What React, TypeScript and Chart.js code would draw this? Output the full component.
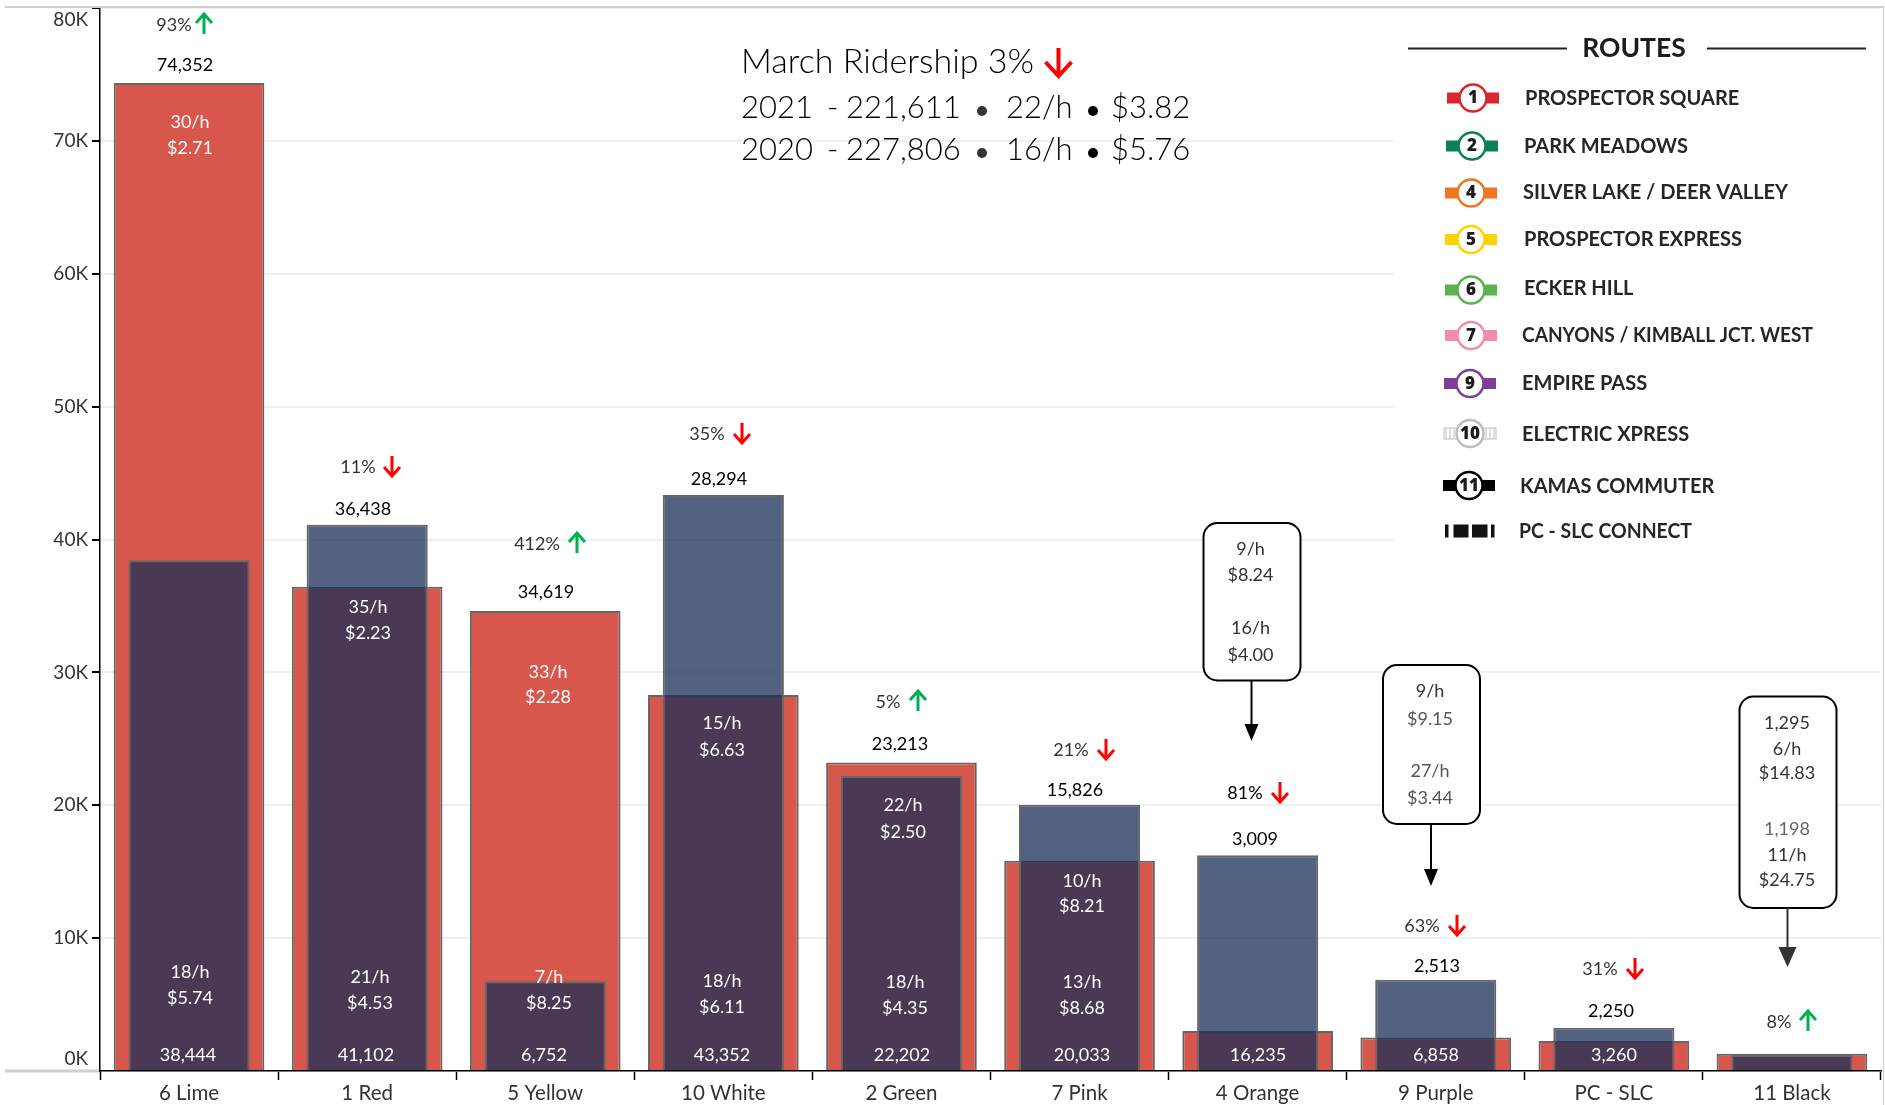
import React, { useEffect, useRef } from "react";
import { Chart, registerables } from "chart.js";

Chart.register(...registerables);

// ---------- data ----------
const categories = ["6 Lime", "1 Red", "5 Yellow", "10 White", "2 Green", "7 Pink", "4 Orange", "9 Purple", "PC - SLC", "11 Black"];
const riders2021 = [74352, 36438, 34619, 28294, 23213, 15826, 3009, 2513, 2250, 1295];
const riders2020 = [38444, 41102, 6752, 43352, 22202, 20033, 16235, 6858, 3260, 1198];
const yTickValues = [0, 10000, 20000, 30000, 40000, 50000, 60000, 70000, 80000];
const changePct = ["93%", "11%", "412%", "35%", "5%", "21%", "81%", "63%", "31%", "8%"];
const changeUp = [true, false, true, false, true, false, false, false, false, true];
const rate2021 = ["30/h", "35/h", "33/h", "15/h", "22/h", "10/h"];
const fare2021 = ["$2.71", "$2.23", "$2.28", "$6.63", "$2.50", "$8.21"];
const rate2020 = ["18/h", "21/h", "7/h", "18/h", "18/h", "13/h"];
const fare2020 = ["$5.74", "$4.53", "$8.25", "$6.11", "$4.35", "$8.68"];
const titleText = "March Ridership 3%";
const summaryRows = [
  ["2021", "-", "221,611", "22/h", "$3.82"],
  ["2020", "-", "227,806", "16/h", "$5.76"],
];
const orangeCallout = ["9/h", "$8.24", "16/h", "$4.00"];
const purpleCallout = ["9/h", "$9.15", "27/h", "$3.44"];
const blackCallout = ["1,295", "6/h", "$14.83", "1,198", "11/h", "$24.75"];
const routeNumbers = ["1", "2", "4", "5", "6", "7", "9", "10", "11", ""];
const routeNames = [
  "PROSPECTOR SQUARE", "PARK MEADOWS", "SILVER LAKE / DEER VALLEY", "PROSPECTOR EXPRESS", "ECKER HILL",
  "CANYONS / KIMBALL JCT. WEST", "EMPIRE PASS", "ELECTRIC XPRESS", "KAMAS COMMUTER", "PC - SLC CONNECT",
];

// ---------- annotation layout (page pixels, separate from the data) ----------
const topLabelPos = [[185, 64], [363, 508], [546, 591], [719, 478], [900, 743], [1075, 789], [1255, 838], [1437, 965], [1611, 1010]];
const pctPos = [[174, 24, 204], [358, 466, 392], [537, 543, 577], [707, 433, 742], [888, 701, 918], [1071, 749, 1106], [1245, 792, 1280], [1422, 925, 1457], [1600, 968, 1635], [1779, 1021, 1808]];
const rate21Pos = [[190, 121, 147], [368, 606, 632], [548, 671, 696], [722, 722, 749], [903, 804, 831], [1082, 880, 905]];
const rate20Pos = [[190, 971, 997], [370, 976, 1002], [549, 976, 1002], [722, 980, 1006], [905, 981, 1007], [1082, 981, 1007]];
const bottomLabelX = [188, 366, 544, 722, 902, 1082, 1258, 1436, 1614];
const bottomLabelY = 1054;
const routeText = [[1525, 98.5], [1524, 146.5], [1523, 193], [1524, 239.5], [1524, 288.5], [1522, 335.5], [1522, 384], [1522, 434.5], [1520, 486.5], [1519, 531.5]];
const routeIcon = [[1473, 98], [1472, 146], [1471, 193], [1471, 239.5], [1471, 290], [1471, 335.5], [1470, 383.5], [1470, 433.5], [1469, 485.5]];
const routeColors = ["#D9252E", "#0B7F56", "#EE7623", "#FFD200", "#5DB14E", "#F08CB0", "#7D3F98", "#BDBDBD", "#000000"];

const REG = "400 18px Lato";

function put(ctx: any, s: string, x: number, y: number, font: string, color: string, align: any = "center", maxW?: number) {
  ctx.font = font;
  ctx.fillStyle = color;
  ctx.textAlign = align;
  ctx.textBaseline = "middle";
  const yy = font === REG ? y + 1 : y;
  if (maxW) ctx.fillText(s, x, yy, maxW);
  else ctx.fillText(s, x, yy);
}

function openArrow(ctx: any, x: number, y0: number, y1: number, color: string, lw: number, hw: number, hh: number) {
  const d = y1 > y0 ? -1 : 1;
  ctx.save();
  ctx.strokeStyle = color;
  ctx.lineWidth = lw;
  ctx.beginPath();
  ctx.moveTo(x, y0);
  ctx.lineTo(x, y1);
  ctx.moveTo(x - hw / 2, y1 + d * hh);
  ctx.lineTo(x, y1);
  ctx.lineTo(x + hw / 2, y1 + d * hh);
  ctx.stroke();
  ctx.restore();
}

function callout(ctx: any, x0: number, x1: number, y0: number, y1: number, tip: number, hh: number, hw: number, color: string) {
  const cx = (x0 + x1) / 2 - 0.5;
  ctx.save();
  ctx.strokeStyle = "#000";
  ctx.fillStyle = "#fff";
  ctx.lineWidth = 2;
  ctx.beginPath();
  ctx.roundRect(x0, y0, x1 - x0, y1 - y0, 14);
  ctx.fill();
  ctx.stroke();
  ctx.strokeStyle = color;
  ctx.fillStyle = color;
  ctx.beginPath();
  ctx.moveTo(cx, y1);
  ctx.lineTo(cx, tip - hh);
  ctx.stroke();
  ctx.beginPath();
  ctx.moveTo(cx - hw / 2, tip - hh);
  ctx.lineTo(cx + hw / 2, tip - hh);
  ctx.lineTo(cx, tip);
  ctx.closePath();
  ctx.fill();
  ctx.restore();
}

function routeGlyph(ctx: any, i: number) {
  const [cx, cy] = routeIcon[i];
  const c = routeColors[i];
  ctx.save();
  if (i === 7) {
    ctx.strokeStyle = "#BDBDBD";
    ctx.lineWidth = 1;
    ctx.strokeRect(cx - 26, cy - 5.5, 52, 11);
    for (let k = -24; k <= 24; k += 4) {
      ctx.beginPath();
      ctx.moveTo(cx + k, cy - 5);
      ctx.lineTo(cx + k, cy + 5);
      ctx.stroke();
    }
  } else {
    ctx.fillStyle = c;
    ctx.fillRect(cx - 26, cy - 5.5, 52, 11);
  }
  ctx.beginPath();
  ctx.arc(cx, cy, 13.5, 0, Math.PI * 2);
  ctx.fillStyle = "#fff";
  ctx.fill();
  ctx.lineWidth = 2.5;
  ctx.strokeStyle = c;
  ctx.stroke();
  ctx.restore();
  put(ctx, routeNumbers[i], cx, cy + 0.5, "800 17px 'Open Sans'", "#1c1c1c");
}

const overlayPlugin = {
  id: "overlay",
  beforeDatasetsDraw(chart: any) {
    const ctx = chart.ctx;
    ctx.save();
    ctx.fillStyle = "#fff";
    ctx.fillRect(1394, 9, 487, 538);
    ctx.restore();
  },
  afterDraw(chart: any) {
    const ctx = chart.ctx;
    ctx.save();
    // page frame
    ctx.strokeStyle = "#cfcfcf";
    ctx.lineWidth = 2;
    ctx.beginPath();
    ctx.moveTo(5, 7);
    ctx.lineTo(1884, 7);
    ctx.stroke();
    ctx.lineWidth = 1;
    ctx.beginPath();
    ctx.moveTo(1883.5, 7);
    ctx.lineTo(1883.5, 1105);
    ctx.stroke();
    ctx.lineWidth = 3;
    ctx.beginPath();
    ctx.moveTo(5, 1071);
    ctx.lineTo(99, 1071);
    ctx.stroke();

    // value labels
    topLabelPos.forEach(([x, y], i) => put(ctx, riders2021[i].toLocaleString("en-US"), x, y, REG, "#000"));
    bottomLabelX.forEach((x, i) => put(ctx, riders2020[i].toLocaleString("en-US"), x, bottomLabelY, REG, "#fff"));
    rate21Pos.forEach(([x, a, b], i) => {
      put(ctx, rate2021[i], x, a, REG, "#fff");
      put(ctx, fare2021[i], x, b, REG, "#fff");
    });
    rate20Pos.forEach(([x, a, b], i) => {
      put(ctx, rate2020[i], x, a, REG, "#fff");
      put(ctx, fare2020[i], x, b, REG, "#fff");
    });

    // change labels and arrows
    pctPos.forEach(([x, y, ax], i) => {
      put(ctx, changePct[i], x, y, REG, i === 6 ? "#000" : "#333");
      if (changeUp[i]) openArrow(ctx, ax, y + 10, y - 10, "#00B050", 3, 16, 9);
      else openArrow(ctx, ax, y - 10, y + 10, "#FF0000", 3, 16, 9);
    });

    // callouts
    callout(ctx, 1203.5, 1300.5, 523, 680.5, 741, 17, 14, "#000");
    [548.5, 574.5, 627, 654].forEach((y, i) => put(ctx, orangeCallout[i], 1250.5, y, REG, "#333"));
    callout(ctx, 1383, 1480, 665, 824, 886, 17, 14, "#000");
    [690, 718, 770, 797].forEach((y, i) => put(ctx, purpleCallout[i], 1430, y, REG, i === 0 ? "#333" : "#555"));
    callout(ctx, 1739.5, 1836.5, 696.5, 908, 967, 20, 18, "#333");
    [722.5, 748, 772, 828, 854, 879.5].forEach((y, i) => put(ctx, blackCallout[i], 1787, y, REG, i === 3 ? "#666" : "#333"));

    // heading block
    put(ctx, titleText, 741, 62, "300 34px Lato", "#000", "left");
    openArrow(ctx, 1058.5, 48, 76, "#FF0000", 4, 26, 14);
    summaryRows.forEach((row, r) => {
      const y = r === 0 ? 108 : 150;
      const f = "300 31px Lato";
      put(ctx, row[0], 741, y, f, "#000", "left");
      put(ctx, row[1], 827, y, f, "#000", "left");
      put(ctx, row[2], 846, y, f, "#000", "left");
      put(ctx, row[3], 1006, y, f, "#000", "left");
      put(ctx, row[4], 1111, y, f, "#000", "left");
      ctx.fillStyle = "#333";
      ctx.beginPath();
      ctx.arc(982, y + 3, 5, 0, Math.PI * 2);
      ctx.fill();
      ctx.fillStyle = "#000";
      ctx.beginPath();
      ctx.arc(1093, y + 3, 5, 0, Math.PI * 2);
      ctx.fill();
    });

    // routes key
    ctx.strokeStyle = "#222";
    ctx.lineWidth = 2;
    ctx.beginPath();
    ctx.moveTo(1408, 48.5);
    ctx.lineTo(1567, 48.5);
    ctx.moveTo(1707, 48.5);
    ctx.lineTo(1866, 48.5);
    ctx.stroke();
    put(ctx, "ROUTES", 1634, 48.5, "700 26.5px Lato", "#1c1c1c");
    routeText.forEach(([x, y], i) => put(ctx, routeNames[i], x, y, "700 20px Lato", "#262626", "left", i === 5 ? 291 : i === 9 ? 173 : undefined));
    routeIcon.forEach((_, i) => routeGlyph(ctx, i));
    // PC - SLC connect mark
    ctx.fillStyle = "#111";
    [[1445, 3.5], [1453.5, 15], [1472, 15.5], [1491, 3.5]].forEach(([x, w]) => ctx.fillRect(x, 524.5, w, 13));
    ctx.restore();
  },
};

export default function App() {
  const ref = useRef<HTMLCanvasElement>(null);
  useEffect(() => {
    const chart = new Chart(ref.current as HTMLCanvasElement, {
      type: "bar",
      data: {
        labels: categories,
        datasets: [
          {
            label: "2020",
            data: riders2020,
            order: 1,
            backgroundColor: "rgba(29,48,88,0.76)",
            borderColor: "#666666",
            borderWidth: 2,
            barPercentage: 0.68,
            categoryPercentage: 1,
            grouped: false,
          },
          {
            label: "2021",
            data: riders2021,
            order: 2,
            backgroundColor: "rgba(214,78,66,0.95)",
            borderColor: "#666666",
            borderWidth: 2,
            barPercentage: 0.846,
            categoryPercentage: 1,
            grouped: false,
          },
        ],
      } as any,
      options: {
        responsive: false,
        animation: false,
        layout: { autoPadding: false, padding: { top: 8, right: 4, left: 0, bottom: 0 } },
        plugins: { legend: { display: false }, tooltip: { enabled: false }, title: { display: false } },
        scales: {
          x: {
            grid: { drawOnChartArea: false, tickColor: "#000", tickLength: 9, tickWidth: 1.5, offset: true },
            border: { color: "#000", width: 1.5, z: 1 },
            ticks: { color: "#333", font: { family: "Lato", size: 20.5, weight: "400" }, padding: 1, maxRotation: 0, autoSkip: false },
            afterFit(s: any) {
              s.height = 34;
              s.paddingLeft = 0;
              s.paddingRight = 0;
            },
          },
          y: {
            min: 0,
            max: 80000,
            afterBuildTicks(s: any) { s.ticks = yTickValues.map((value) => ({ value })); },
            grid: { color: "#f0f0f0", lineWidth: 2, tickColor: "#000", tickLength: 8, tickWidth: 2 },
            border: { color: "#000", width: 1.5 },
            ticks: {
              color: "#333",
              font: { family: "Lato", size: 19, weight: "400", lineHeight: 1.3 },
              padding: 4,
              callback(v: any) {
                const t = `${v / 1000}K`;
                if (v === 80000) return ["", t];
                if (v === 0) return [t, ""];
                return t;
              },
            },
            afterFit(s: any) {
              s.width = 100;
              s.paddingTop = 0;
              s.paddingBottom = 0;
            },
          },
        },
      } as any,
      plugins: [overlayPlugin],
    });
    return () => chart.destroy();
  }, []);
  return (
    <div style={{ position: "absolute", left: 0, top: 0, width: 1885, height: 1105 }}>
      <canvas ref={ref} width={1885} height={1105} style={{ display: "block", background: "#fff" }} />
    </div>
  );
}
